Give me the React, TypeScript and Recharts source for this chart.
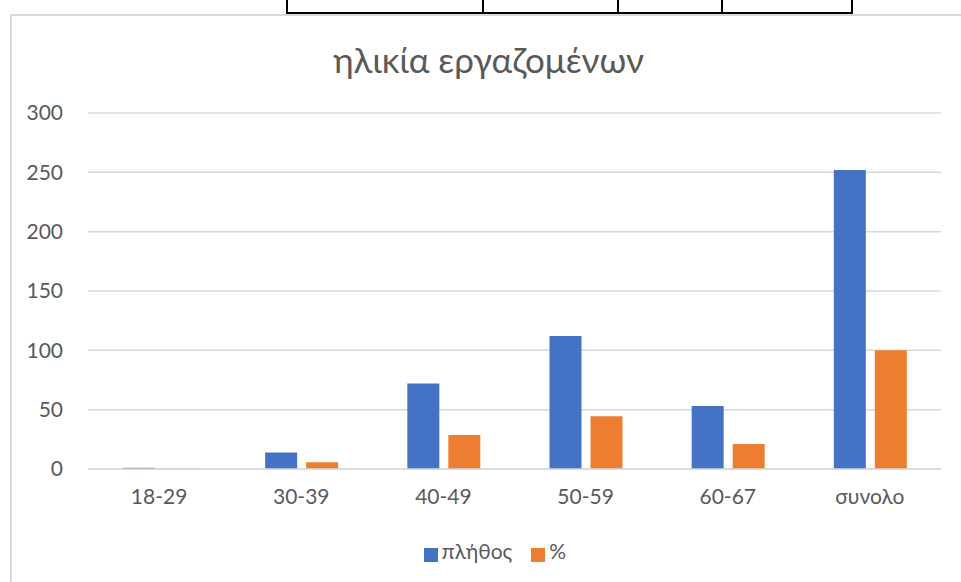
import React from "react";
import { BarChart, Bar, XAxis, YAxis, CartesianGrid, Legend } from "recharts";

const categories = ["18-29", "30-39", "40-49", "50-59", "60-67", "συνολο"];
const counts = [1, 14, 72, 112, 53, 252];
const percents = [0.4, 5.6, 28.6, 44.4, 21, 100];
const yTicks = [0, 50, 100, 150, 200, 250, 300];

const data = categories.map((name, i) => ({
  name,
  count: counts[i],
  pct: percents[i],
}));

const textColor = "#595959";
const gridColor = "#d9d9d9";
const font = "Lato, 'Open Sans', sans-serif";

export default function App() {
  return (
    <div
      style={{
        position: "absolute",
        left: 0,
        top: 0,
        width: 961,
        height: 582,
        overflow: "hidden",
        background: "#fff",
        fontFamily: font,
      }}
    >
      {/* bit of the table above the chart */}
      <div
        style={{
          position: "absolute",
          left: 286,
          top: -10,
          width: 563,
          height: 22,
          border: "2px solid #000",
          borderTop: "none",
        }}
      >
        {[196, 331, 435].map((x) => (
          <div
            key={x}
            style={{ position: "absolute", left: x - 2, top: 0, width: 2, height: 22, background: "#000" }}
          />
        ))}
      </div>

      {/* chart box */}
      <div
        style={{
          position: "absolute",
          left: 10,
          top: 14,
          width: 1000,
          height: 700,
          border: `2px solid ${gridColor}`,
          boxSizing: "border-box",
        }}
      />

      <div
        style={{
          position: "absolute",
          left: 0,
          top: 38,
          width: 977,
          textAlign: "center",
          fontSize: 35,
          color: textColor,
        }}
      >
        ηλικία εργαζομένων
      </div>

      <div style={{ position: "absolute", left: 0, top: 0 }}>
        <BarChart
          width={961}
          height={582}
          data={data}
          margin={{ top: 113, right: 20, bottom: 43, left: 28 }}
          barCategoryGap="24%"
          barGap={9}
          barSize={32}
        >
          <CartesianGrid vertical={false} stroke={gridColor} strokeWidth={1.5} />
          <XAxis
            dataKey="name"
            axisLine={{ stroke: gridColor, strokeWidth: 1.5 }}
            tickLine={false}
            tickMargin={14}
            height={40}
            tick={{ fill: textColor, fontSize: 21, fontFamily: font }}
          />
          <YAxis
            domain={[0, 300]}
            ticks={yTicks}
            axisLine={false}
            tickLine={false}
            tickMargin={19}
            width={60}
            tick={{ fill: textColor, fontSize: 21, fontFamily: font }}
          />
          <Legend
            verticalAlign="bottom"
            align="center"
            iconType="square"
            iconSize={14}
            itemSorter="dataKey"
            wrapperStyle={{ position: "absolute", left: 0, top: 538, width: 1000, height: 30 }}
            formatter={(value) => (
              <span
                style={{
                  color: textColor,
                  fontSize: 21,
                  fontFamily: font,
                  paddingRight: value === "πλήθος" ? 9 : 0,
                }}
              >
                {value}
              </span>
            )}
          />
          <Bar dataKey="count" name="πλήθος" fill="#4472c4" isAnimationActive={false} />
          <Bar dataKey="pct" name="%" fill="#ed7d31" isAnimationActive={false} />
        </BarChart>
      </div>
    </div>
  );
}
